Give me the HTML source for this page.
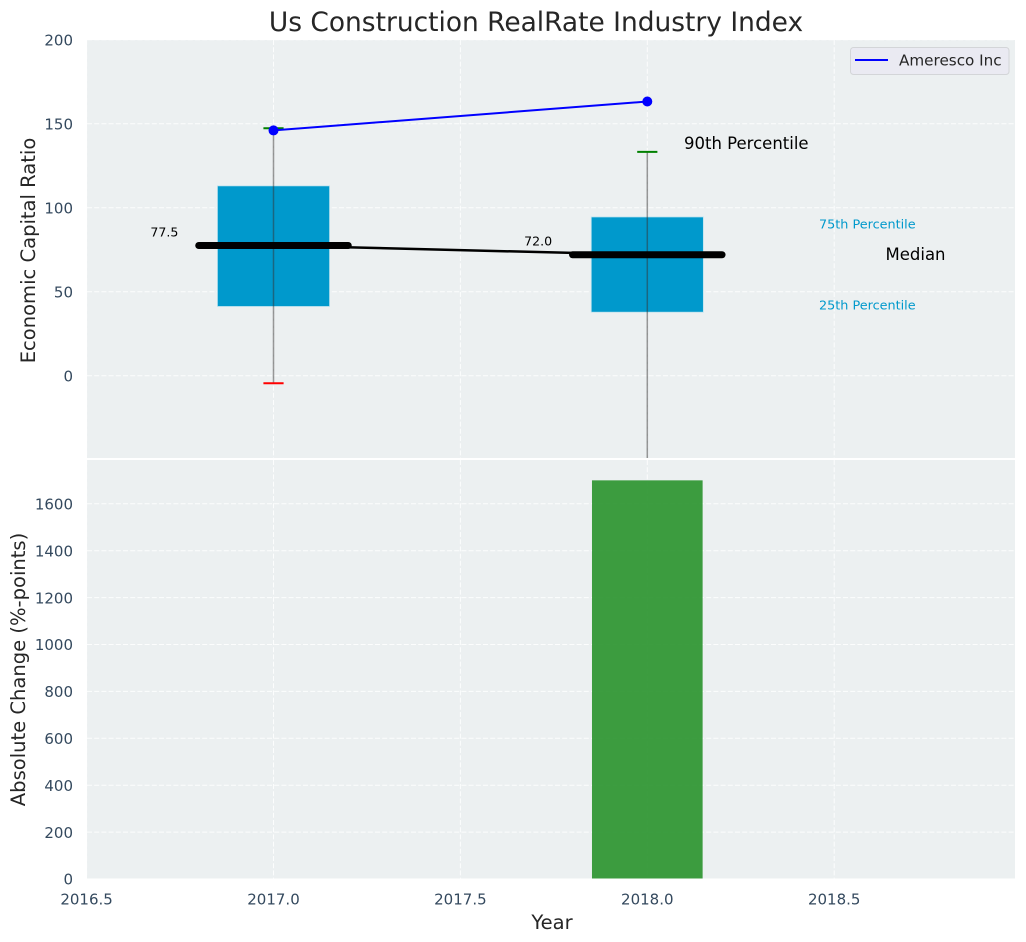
<!DOCTYPE html>
<html>
<head>
<meta charset="utf-8">
<title>Us Construction RealRate Industry Index</title>
<style>
html,body{margin:0;padding:0;background:#fff;width:1026px;height:942px;overflow:hidden}
svg{display:block;font-family:"DejaVu Sans","Liberation Sans",sans-serif}
</style>
</head>
<body>
<svg id="chart" xmlns="http://www.w3.org/2000/svg" width="1026" height="942" viewBox="0 0 1026 942">
  <defs>
    <clipPath id="top-clip"><rect x="87" y="40" width="928" height="418"/></clipPath>
    <clipPath id="bottom-clip"><rect x="87" y="460" width="928" height="418.5"/></clipPath>
  </defs>
  <rect x="87" y="40" width="928" height="418" fill="#ecf0f1"/>
  <rect x="87" y="460" width="928" height="418.5" fill="#ecf0f1"/>
  <g id="grid"></g>
  <g id="ticks"></g>
  <g id="top-marks" clip-path="url(#top-clip)"></g>
  <g id="bottom-marks" clip-path="url(#bottom-clip)"></g>
  <g id="notes"></g>
  <text x="536" y="31" font-size="26.45" fill="#262626" text-anchor="middle">Us Construction RealRate Industry Index</text>
  <text transform="translate(35 250.5) rotate(-90)" font-size="19.55" fill="#262626" text-anchor="middle">Economic Capital Ratio</text>
  <text transform="translate(25 669.5) rotate(-90)" font-size="19.55" fill="#262626" text-anchor="middle">Absolute Change (%-points)</text>
  <text x="552" y="929" font-size="19.55" fill="#262626" text-anchor="middle">Year</text>
  <g>
    <rect x="850.5" y="47.5" width="158.5" height="27" rx="3" fill="#eaeaf2" stroke="#d3d5d8" stroke-width="1"/>
    <line x1="855" y1="60" x2="888" y2="60" stroke="#0000ff" stroke-width="2"/>
    <text x="899" y="65.5" font-size="15.2" fill="#262626">Ameresco Inc</text>
  </g>
</svg>
<script>
const years = [2017, 2018];
const q1Values = [41.2, 37.8];
const q3Values = [113, 94.5];
const medianValues = [77.5, 72.0];
const whiskerHighValues = [147.3, 133.2];
const whiskerLowValues = [-4.5, -60];
const amerescoValues = [146, 163.2];
const changeValues = [0, 1700];
const xTicks = [2016.5, 2017.0, 2017.5, 2018.0, 2018.5];
const topYTicks = [0, 50, 100, 150, 200];
const bottomYTicks = [0, 200, 400, 600, 800, 1000, 1200, 1400, 1600];

const boxWidth = 0.3;
const changeBarWidth = 0.296;
const medianHalf = 0.2;
const capHalf = 0.027;

function xScale(v) { return 86.6 + (v - 2016.5) * 373.8; }
function yTop(v) { return 375.7 - v * 1.68; }
function yBottom(v) { return 879 - v * 0.2345; }

const NS = 'http://www.w3.org/2000/svg';
function make(parent, tag, props, text) {
  const el = document.createElementNS(NS, tag);
  for (const k in props) el.setAttribute(k, props[k]);
  if (text !== undefined) el.textContent = text;
  parent.appendChild(el);
  return el;
}
const gridG = document.getElementById('grid');
const ticksG = document.getElementById('ticks');
const topG = document.getElementById('top-marks');
const botG = document.getElementById('bottom-marks');
const notesG = document.getElementById('notes');
const gridStyle = {stroke:'#ffffff', 'stroke-width':1, 'stroke-dasharray':'5 2.2', 'stroke-opacity':0.85, fill:'none'};

xTicks.forEach(function (t) {
  const a = make(gridG, 'line', Object.assign({x1:xScale(t), x2:xScale(t), y1:40, y2:458}, gridStyle));
  
  
  const b = make(gridG, 'line', Object.assign({x1:xScale(t), x2:xScale(t), y1:460, y2:878.5}, gridStyle));
  
  
  const l = make(ticksG, 'text', {x:xScale(t), y:904.5, 'font-size':15, fill:'#34495e', 'text-anchor':'middle'}, t.toFixed(1));
  
  
});
topYTicks.forEach(function (t) {
  const a = make(gridG, 'line', Object.assign({x1:87, x2:1015, y1:yTop(t), y2:yTop(t)}, gridStyle));
  
  
  const l = make(ticksG, 'text', {x:73, y:yTop(t) + 5.7, 'font-size':15, fill:'#34495e', 'text-anchor':'end'}, String(t));
  
  
});
bottomYTicks.forEach(function (t) {
  const a = make(gridG, 'line', Object.assign({x1:87, x2:1015, y1:yBottom(t), y2:yBottom(t)}, gridStyle));
  
  
  const l = make(ticksG, 'text', {x:73, y:yBottom(t) + 5.7, 'font-size':15, fill:'#34495e', 'text-anchor':'end'}, String(t));
  
  
});

years.forEach(function (yr, i) {
  const x0 = xScale(yr - boxWidth / 2), x1 = xScale(yr + boxWidth / 2);
  const box = make(topG, 'rect', {x:x0, y:yTop(q3Values[i]), width:x1 - x0, height:yTop(q1Values[i]) - yTop(q3Values[i]), fill:'#0099cc', stroke:'#bfe3ee', 'stroke-width':0.8});
  
  
  const w = make(topG, 'line', {x1:xScale(yr), x2:xScale(yr), y1:yTop(whiskerHighValues[i]), y2:yTop(whiskerLowValues[i]), stroke:'#333333', 'stroke-opacity':0.5, 'stroke-width':1.5});
  
  
  const hi = make(topG, 'line', {x1:xScale(yr - capHalf), x2:xScale(yr + capHalf), y1:yTop(whiskerHighValues[i]), y2:yTop(whiskerHighValues[i]), stroke:'#008000', 'stroke-width':2});
  
  
  const lo = make(topG, 'line', {x1:xScale(yr - capHalf), x2:xScale(yr + capHalf), y1:yTop(whiskerLowValues[i]), y2:yTop(whiskerLowValues[i]), stroke:'#ff0000', 'stroke-width':2});
  
  
  const m = make(topG, 'line', {x1:xScale(yr - medianHalf), x2:xScale(yr + medianHalf), y1:yTop(medianValues[i]), y2:yTop(medianValues[i]), stroke:'#000000', 'stroke-width':7, 'stroke-linecap':'round'});
  
  
  const t = make(notesG, 'text', {x:xScale(yr - 0.292), y:yTop(medianValues[i] + 8) + 4.2, 'font-size':12.6, fill:'#000000', 'text-anchor':'middle'}, medianValues[i].toFixed(1));
  
  

  if (changeValues[i] > 0) {
    const c0 = xScale(yr - changeBarWidth / 2), c1 = xScale(yr + changeBarWidth / 2);
    const bar = make(botG, 'rect', {x:c0, y:yBottom(changeValues[i]), width:c1 - c0, height:yBottom(0) - yBottom(changeValues[i]), fill:'#2e9632', 'fill-opacity':0.93});
    
    
  }
});

const medianLine = make(topG, 'polyline', {points:years.map(function (y, i) { return xScale(y) + ',' + yTop(medianValues[i]); }).join(' '), fill:'none', stroke:'#000000', 'stroke-width':2.5});



const amLine = make(topG, 'polyline', {points:years.map(function (y, i) { return xScale(y) + ',' + yTop(amerescoValues[i]); }).join(' '), fill:'none', stroke:'#0000ff', 'stroke-width':2});


years.forEach(function (y, i) {
  const p = make(topG, 'circle', {cx:xScale(y), cy:yTop(amerescoValues[i]), r:5, fill:'#0000ff'});
  
  
});

const n1 = make(notesG, 'text', {x:684, y:149, 'font-size':16.5, fill:'#000000'}, '90th Percentile');


const n2 = make(notesG, 'text', {x:885.5, y:260, 'font-size':16.5, fill:'#000000'}, 'Median');


const n3 = make(notesG, 'text', {x:819, y:228.5, 'font-size':12.8, fill:'#0099cc'}, '75th Percentile');


const n4 = make(notesG, 'text', {x:819, y:309.5, 'font-size':12.8, fill:'#0099cc'}, '25th Percentile');


</script>
</body>
</html>
